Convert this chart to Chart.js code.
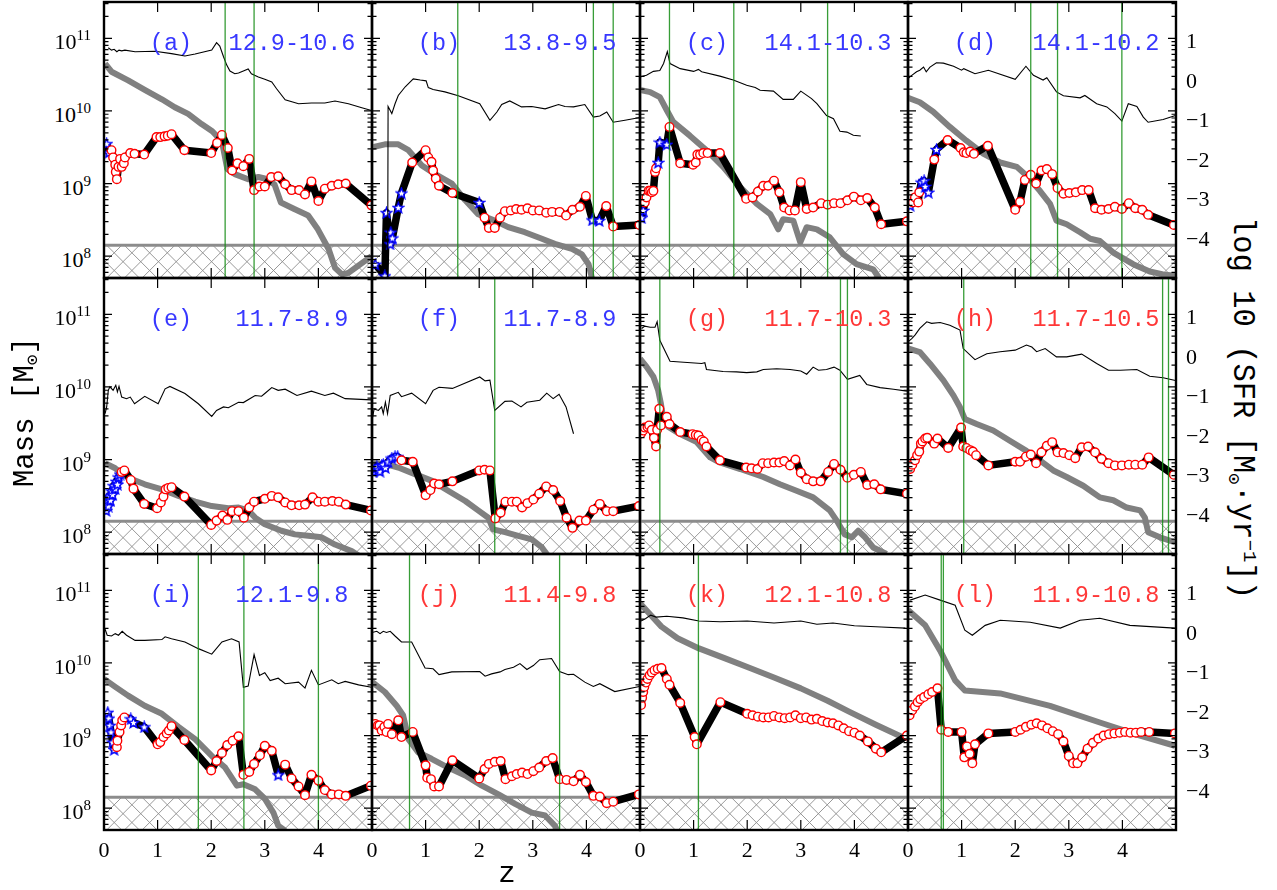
<!DOCTYPE html>
<html>
<head>
<meta charset="utf-8">
<title>Mass and star formation histories</title>
<script src="https://cdn.jsdelivr.net/npm/chart.js@4.4.1/dist/chart.umd.min.js"></script>
<style>
  html, body { margin: 0; padding: 0; background: #fff; }
  body { position: relative; width: 1277px; height: 890px; overflow: hidden; }
  canvas { position: absolute; }
  .t { position: absolute; white-space: nowrap; line-height: 1; color: #000; }
  .tick { font-family: "Liberation Serif", "DejaVu Serif", serif; font-size: 22px; }
  .tick sup { font-size: 15px; position: relative; top: -9px; vertical-align: baseline; line-height: 0; }
  .tag { font-family: "Liberation Mono", "DejaVu Sans Mono", monospace; font-size: 23.5px; }
  .axl { font-family: "Liberation Mono", "DejaVu Sans Mono", monospace; font-size: 29px; }
  .axl.wide { font-size: 30.5px; }
  .axl sub, .axl sup { font-size: 62%; line-height: 0; position: relative; vertical-align: baseline; }
  .axl sub { top: 0.3em; }
  .axl sup { top: -0.55em; }
</style>
</head>
<body>
<script>
// ---- axis definitions -------------------------------------------------
const zTicks = [0, 1, 2, 3, 4];
const massTicks = [8, 9, 10, 11];          // log10 of mass in solar masses
const sfrTicks = [1, 0, -1, -2, -3, -4];   // log10 of SFR
const massFloor = 8.15;                    // log10 M below which objects are unresolved

// ---- panel annotations ------------------------------------------------
const panelTags = ['(a)', '(b)', '(c)', '(d)', '(e)', '(f)', '(g)', '(h)', '(i)', '(j)', '(k)', '(l)'];
const massRanges = ['12.9-10.6', '13.8-9.5', '14.1-10.3', '14.1-10.2', '11.7-8.9', '11.7-8.9',
                    '11.7-10.3', '11.7-10.5', '12.1-9.8', '11.4-9.8', '12.1-10.8', '11.9-10.8'];
const panelGroup = ['b', 'b', 'b', 'b', 'b', 'b', 'r', 'r', 'b', 'r', 'r', 'r'];

// ---- (a) ---------------------------------------------------------------
const sfrA = [[0.08,0.84],[0.14,0.78],[0.19,0.80],[0.24,0.74],[0.28,0.78],[0.33,0.76],[0.39,0.78],[0.58,0.74],[0.95,0.75],[1.26,0.69],[1.51,0.63],[1.70,0.68],[2.01,0.78],[2.10,0.97],[2.16,0.88],[2.23,0.61],[2.29,0.40],[2.35,0.25],[2.44,0.18],[2.51,0.20],[2.60,0.25],[2.69,0.30],[2.75,0.18],[2.88,0.10],[3.00,0.04],[3.13,-0.03],[3.22,-0.20],[3.38,-0.48],[3.63,-0.58],[3.87,-0.56],[4.12,-0.56],[4.31,-0.51],[4.56,-0.58],[4.81,-0.68],[4.99,-0.75]];
const haloA = [[0.02,10.65],[0.14,10.54],[0.45,10.42],[0.76,10.29],[1.08,10.16],[1.32,10.05],[1.57,9.96],[1.82,9.82],[2.02,9.72],[2.20,9.58],[2.30,9.20],[2.44,9.13],[2.69,9.06],[2.88,9.09],[3.00,9.07],[3.18,8.99],[3.30,8.74],[3.55,8.65],[3.81,8.56],[3.99,8.37],[4.19,8.10],[4.31,7.84],[4.44,7.75],[4.56,7.77],[4.99,8.00]];
const massA = [[0.05,9.55],[0.09,9.43],[0.14,9.46],[0.17,9.36],[0.21,9.26],[0.22,9.16],[0.24,9.06],[0.27,9.23],[0.30,9.34],[0.33,9.23],[0.37,9.28],[0.39,9.36],[0.49,9.42],[0.57,9.41],[0.75,9.40],[0.98,9.64],[1.05,9.64],[1.13,9.65],[1.19,9.66],[1.26,9.68],[1.50,9.46],[2.00,9.42],[2.11,9.56],[2.20,9.67],[2.31,9.49],[2.39,9.18],[2.49,9.28],[2.60,9.24],[2.71,9.34],[2.80,8.91],[2.90,8.96],[3.00,8.96],[3.12,9.09],[3.25,9.10],[3.38,8.99],[3.50,8.91],[3.64,8.91],[3.75,8.85],[3.87,9.03],[4.00,8.76],[4.12,8.93],[4.25,8.97],[4.37,8.99],[4.51,9.00],[4.99,8.70]];
const starsA = [0, 1];
const mergersA = [2.26, 2.80];

// ---- (b) ---------------------------------------------------------------
const sfrB = [[0.29,-6],[0.30,-0.65],[0.37,-0.83],[0.43,-0.58],[0.49,-0.37],[0.62,-0.15],[0.77,0.05],[0.90,0.02],[1.01,0.00],[1.05,-0.17],[1.14,-0.22],[1.36,-0.28],[1.61,-0.38],[2.01,-0.58],[2.20,-1.00],[2.33,-0.79],[2.42,-0.60],[2.57,-0.51],[2.79,-0.66],[2.98,-0.65],[3.23,-0.71],[3.48,-0.60],[3.60,-0.65],[3.76,-0.66],[3.97,-0.60],[4.13,-0.92],[4.25,-0.89],[4.38,-0.79],[4.50,-1.05],[4.72,-1.00],[5.00,-0.93]];
const haloB = [[0,9.50],[0.24,9.54],[0.49,9.54],[0.68,9.46],[0.93,9.25],[1.18,9.13],[1.49,9.00],[1.74,8.77],[1.98,8.58],[2.29,8.49],[2.54,8.40],[2.85,8.33],[3.17,8.24],[3.41,8.17],[3.73,8.10],[3.91,8.03],[4.04,7.89],[4.10,7.71],[4.12,7.50]];
const massB = [[0.06,7.89],[0.24,7.73],[0.27,8.60],[0.34,8.17],[0.35,8.33],[0.38,8.25],[0.49,8.67],[0.55,8.87],[0.75,9.29],[1.00,9.46],[1.05,9.36],[1.11,9.30],[1.14,9.18],[1.19,9.07],[1.25,8.97],[1.50,8.87],[2.00,8.74],[2.10,8.53],[2.18,8.39],[2.29,8.39],[2.39,8.53],[2.48,8.62],[2.59,8.63],[2.69,8.65],[2.79,8.64],[2.90,8.66],[3.00,8.63],[3.12,8.63],[3.25,8.60],[3.36,8.61],[3.50,8.61],[3.62,8.56],[3.74,8.64],[3.88,8.68],[3.99,8.83],[4.11,8.50],[4.24,8.49],[4.37,8.69],[4.50,8.41],[4.99,8.43]];
const starsB = [0, 1, 2, 3, 4, 5, 6, 7, 16, 35, 36];
const mergersB = [1.60, 4.13, 4.50];

// ---- (c) ---------------------------------------------------------------
const sfrC = [[0,0.10],[0.12,0.14],[0.25,0.24],[0.37,0.26],[0.44,0.44],[0.51,0.74],[0.56,0.44],[0.75,0.31],[1.00,0.24],[1.09,0.29],[1.15,0.23],[1.49,0.12],[1.74,0.02],[1.99,-0.11],[2.15,-0.17],[2.24,-0.24],[2.49,-0.26],[2.67,-0.47],[2.86,-0.47],[3.00,-0.26],[3.20,-0.45],[3.30,-0.58],[3.48,-0.88],[3.61,-0.96],[3.73,-1.28],[3.86,-1.30],[3.98,-1.38],[4.12,-1.40]];
const haloC = [[0,10.29],[0.19,10.26],[0.37,10.19],[0.50,10.01],[0.62,9.85],[0.93,9.66],[1.24,9.46],[1.55,9.23],[1.87,8.95],[2.18,8.72],[2.43,8.58],[2.58,8.37],[2.67,8.51],[2.86,8.49],[2.99,8.19],[3.11,8.40],[3.30,8.37],[3.54,8.26],[3.79,8.03],[4.04,7.89],[4.35,7.82],[4.45,7.71],[4.48,7.60]];
const massC = [[0.03,8.53],[0.06,8.63],[0.09,8.74],[0.12,8.81],[0.16,8.90],[0.19,8.90],[0.22,8.88],[0.25,8.90],[0.28,9.16],[0.30,9.21],[0.34,9.29],[0.37,9.57],[0.50,9.54],[0.55,9.78],[0.75,9.28],[0.99,9.26],[1.04,9.29],[1.07,9.40],[1.12,9.40],[1.18,9.42],[1.26,9.42],[1.49,9.42],[1.98,8.79],[2.10,8.81],[2.20,8.89],[2.30,8.97],[2.39,8.97],[2.50,9.04],[2.60,8.88],[2.69,8.67],[2.79,8.63],[2.89,8.63],[3.00,9.02],[3.11,8.65],[3.23,8.67],[3.38,8.73],[3.50,8.71],[3.62,8.73],[3.74,8.73],[3.87,8.77],[3.99,8.82],[4.12,8.77],[4.24,8.80],[4.38,8.67],[4.50,8.44],[4.98,8.48]];
const starsC = [0, 1, 10, 11, 12];
const mergersC = [0.55, 1.75, 3.50];

// ---- (d) ---------------------------------------------------------------
const sfrD = [[0,0.06],[0.07,0.14],[0.16,0.23],[0.22,0.27],[0.29,0.35],[0.34,0.23],[0.41,0.35],[0.53,0.46],[0.66,0.45],[0.85,0.37],[1.00,0.27],[1.04,0.31],[1.25,0.18],[1.50,0.27],[2.00,0.04],[2.20,0.37],[2.34,0.14],[2.52,0.02],[2.59,0.08],[2.77,-0.28],[2.90,-0.38],[3.21,-0.43],[3.30,-0.37],[3.52,-0.58],[3.71,-0.66],[3.86,-0.83],[3.99,-1.02],[4.11,-0.58],[4.27,-0.65],[4.39,-0.92],[4.48,-1.05],[4.76,-0.98],[4.99,-0.88]];
const haloD = [[0,10.18],[0.22,10.12],[0.47,9.99],[0.78,9.78],[1.09,9.59],[1.41,9.41],[1.72,9.29],[2.03,9.23],[2.21,9.11],[2.46,8.90],[2.65,8.72],[2.77,8.49],[2.96,8.44],[3.21,8.33],[3.40,8.24],[3.58,8.21],[3.83,8.05],[4.20,7.89],[4.51,7.79],[4.76,7.75],[4.99,7.73]];
const massD = [[0.04,8.70],[0.09,8.74],[0.13,8.81],[0.19,8.74],[0.21,8.88],[0.25,9.02],[0.30,9.04],[0.32,8.96],[0.38,8.88],[0.49,9.33],[0.53,9.47],[0.74,9.60],[0.98,9.49],[1.04,9.43],[1.09,9.42],[1.16,9.44],[1.23,9.41],[1.49,9.52],[2.00,8.64],[2.09,8.75],[2.18,9.05],[2.29,9.12],[2.39,9.00],[2.49,9.18],[2.59,9.20],[2.69,9.13],[2.79,8.94],[2.90,8.86],[3.01,8.87],[3.13,8.88],[3.25,8.91],[3.37,8.91],[3.49,8.66],[3.61,8.64],[3.74,8.65],[3.86,8.68],[3.99,8.65],[4.12,8.73],[4.24,8.66],[4.37,8.64],[4.48,8.57],[4.96,8.43]];
const starsD = [0, 5, 6, 7, 8, 10];
const mergersD = [2.29, 2.79, 3.99];

// ---- (e) ---------------------------------------------------------------
const sfrE = [[0.02,-1.44],[0.05,-1.27],[0.08,-0.85],[0.11,-0.76],[0.17,-0.85],[0.22,-0.72],[0.25,-0.89],[0.28,-0.75],[0.33,-1.02],[0.42,-1.06],[0.49,-1.02],[0.57,-1.19],[0.76,-1.00],[1.01,-1.19],[1.14,-0.81],[1.23,-0.75],[1.51,-0.93],[1.76,-1.19],[2.01,-1.51],[2.10,-1.36],[2.23,-1.27],[2.32,-1.29],[2.51,-1.15],[2.60,-1.16],[2.82,-0.98],[2.94,-1.00],[3.00,-0.93],[3.13,-0.78],[3.25,-0.85],[3.38,-0.82],[3.60,-0.98],[3.87,-0.87],[4.12,-0.98],[4.28,-0.92],[4.50,-1.06],[4.99,-1.09]];
const haloE = [[0.02,8.95],[0.21,8.88],[0.45,8.75],[0.76,8.66],[1.08,8.59],[1.39,8.50],[1.70,8.42],[2.01,8.36],[2.32,8.33],[2.51,8.34],[2.69,8.30],[2.82,8.20],[3.00,8.11],[3.31,8.02],[3.56,7.97],[3.81,7.95],[4.06,7.93],[4.31,7.83],[4.62,7.74],[4.81,7.65]];
const massE = [[0.02,8.40],[0.04,8.30],[0.06,8.45],[0.08,8.36],[0.10,8.50],[0.12,8.44],[0.14,8.57],[0.16,8.52],[0.18,8.64],[0.21,8.60],[0.23,8.70],[0.25,8.66],[0.27,8.76],[0.30,8.80],[0.33,8.83],[0.38,8.85],[0.50,8.72],[0.55,8.60],[0.75,8.39],[0.99,8.33],[1.06,8.41],[1.11,8.49],[1.15,8.59],[1.20,8.61],[1.26,8.62],[1.50,8.49],[2.00,8.10],[2.10,8.16],[2.21,8.23],[2.30,8.17],[2.39,8.29],[2.51,8.29],[2.61,8.20],[2.71,8.34],[2.80,8.42],[3.00,8.46],[3.13,8.50],[3.25,8.48],[3.38,8.41],[3.50,8.37],[3.64,8.37],[3.75,8.38],[3.89,8.48],[4.00,8.42],[4.12,8.42],[4.26,8.43],[4.38,8.42],[4.51,8.38],[4.98,8.30]];
const starsE = [0, 1, 2, 3, 4, 5, 6, 7, 8, 9, 10, 11, 12, 13];
const mergersE = [];

// ---- (f) ---------------------------------------------------------------
const sfrF = [[0.00,-1.61],[0.04,-1.32],[0.12,-1.36],[0.18,-1.27],[0.21,-1.44],[0.25,-1.15],[0.29,-1.44],[0.34,-0.98],[0.49,-0.90],[0.55,-1.01],[0.74,-0.92],[1.00,-1.19],[1.14,-0.85],[1.25,-0.77],[1.50,-0.80],[2.01,-0.51],[2.11,-0.61],[2.20,-0.59],[2.29,-1.36],[2.48,-1.13],[2.61,-1.12],[2.78,-1.27],[2.89,-1.15],[3.13,-1.10],[3.26,-0.92],[3.38,-1.06],[3.49,-0.95],[3.62,-1.27],[3.76,-1.95]];
const haloF = [[0,8.95],[0.24,8.94],[0.49,8.89],[0.80,8.80],[1.11,8.71],[1.42,8.57],[1.74,8.43],[1.98,8.30],[2.17,8.20],[2.26,8.04],[2.48,8.00],[2.73,7.95],[2.98,7.90],[3.17,7.79],[3.29,7.67]];
const massF = [[0.02,8.84],[0.06,8.88],[0.09,8.90],[0.12,8.86],[0.15,8.84],[0.18,8.92],[0.21,8.93],[0.25,8.89],[0.30,8.97],[0.37,9.02],[0.43,9.04],[0.48,9.04],[0.55,8.99],[0.76,8.97],[1.00,8.51],[1.09,8.58],[1.16,8.67],[1.25,8.66],[1.50,8.70],[2.00,8.85],[2.10,8.86],[2.20,8.85],[2.30,8.19],[2.40,8.27],[2.49,8.42],[2.61,8.42],[2.70,8.42],[2.80,8.34],[2.90,8.40],[3.01,8.45],[3.12,8.53],[3.25,8.63],[3.38,8.58],[3.51,8.43],[3.63,8.20],[3.74,8.06],[3.87,8.16],[3.99,8.16],[4.13,8.31],[4.25,8.39],[4.38,8.29],[4.50,8.29],[4.98,8.36]];
const starsF = [0, 1, 2, 3, 4, 5, 6, 7, 8, 9, 10, 11];
const mergersF = [2.29];

// ---- (g) ---------------------------------------------------------------
const sfrG = [[0.03,0.72],[0.09,0.78],[0.19,0.75],[0.28,0.75],[0.32,0.89],[0.37,0.42],[0.56,-0.11],[0.75,-0.13],[1.15,-0.17],[1.21,-0.15],[1.24,-0.32],[1.55,-0.37],[1.80,-0.38],[1.99,-0.40],[2.18,-0.38],[2.30,-0.32],[2.55,-0.30],[2.80,-0.32],[3.00,-0.36],[3.11,-0.44],[3.23,-0.26],[3.33,-0.34],[3.48,-0.32],[3.62,-0.26],[3.73,-0.34],[3.87,-0.57],[4.10,-0.47],[4.23,-0.70],[4.48,-0.78],[4.73,-0.82],[4.98,-0.87]];
const haloG = [[0,10.39],[0.12,10.28],[0.25,10.14],[0.34,9.95],[0.39,9.77],[0.44,9.54],[0.53,9.45],[0.75,9.35],[1.06,9.24],[1.31,9.03],[1.49,8.96],[1.87,8.87],[2.30,8.76],[2.61,8.66],[2.92,8.57],[3.23,8.48],[3.54,8.30],[3.67,8.16],[3.82,7.97],[3.95,7.93],[4.07,8.02],[4.20,7.93],[4.35,7.79],[4.60,7.70]];
const massG = [[0.02,9.36],[0.06,9.40],[0.09,9.44],[0.14,9.45],[0.17,9.47],[0.22,9.41],[0.26,9.30],[0.30,9.18],[0.32,9.41],[0.36,9.70],[0.39,9.47],[0.50,9.59],[0.55,9.49],[0.75,9.38],[0.98,9.35],[1.04,9.34],[1.09,9.33],[1.15,9.27],[1.19,9.25],[1.24,9.18],[1.49,8.99],[1.98,8.89],[2.08,8.88],[2.19,8.87],[2.29,8.95],[2.39,8.95],[2.50,8.96],[2.60,8.96],[2.69,8.98],[2.80,8.92],[2.90,9.00],[3.00,8.82],[3.11,8.73],[3.23,8.70],[3.37,8.70],[3.51,8.83],[3.62,8.94],[3.74,8.86],[3.87,8.75],[3.99,8.79],[4.12,8.83],[4.24,8.65],[4.37,8.66],[4.49,8.59],[4.98,8.53]];
const starsG = [];
const mergersG = [0.37, 3.74, 3.87];

// ---- (h) ---------------------------------------------------------------
const sfrH = [[0,0.38],[0.07,0.46],[0.13,0.55],[0.22,0.72],[0.35,0.89],[0.44,0.85],[0.60,0.87],[0.78,0.80],[0.97,0.68],[1.03,0.21],[1.25,-0.07],[1.47,0.08],[1.72,0.13],[2.00,0.17],[2.21,0.30],[2.31,0.25],[2.40,0.13],[2.56,0.21],[2.77,0.00],[2.96,0.00],[3.24,0.07],[3.52,-0.17],[3.74,-0.34],[3.96,-0.34],[4.27,-0.32],[4.51,-0.49],[4.76,-0.53],[4.99,-0.60]];
const haloH = [[0,10.53],[0.22,10.48],[0.41,10.32],[0.66,10.09],[0.85,9.88],[0.97,9.72],[1.06,9.56],[1.28,9.49],[1.59,9.40],[1.90,9.26],[2.21,9.12],[2.46,8.99],[2.71,8.85],[2.96,8.76],[3.27,8.64],[3.58,8.48],[3.83,8.44],[4.08,8.34],[4.33,8.30],[4.42,8.20],[4.48,8.00],[4.70,7.93],[4.99,7.86]];
const massH = [[0.04,8.87],[0.08,8.93],[0.13,8.99],[0.17,9.06],[0.21,9.11],[0.24,9.22],[0.27,9.25],[0.32,9.29],[0.36,9.30],[0.49,9.22],[0.55,9.29],[0.75,9.16],[0.99,9.44],[1.03,9.18],[1.09,9.16],[1.16,9.13],[1.21,9.11],[1.27,9.06],[1.50,8.92],[2.00,8.97],[2.09,8.97],[2.20,9.04],[2.29,9.07],[2.39,8.95],[2.49,9.10],[2.59,9.19],[2.69,9.24],[2.79,9.10],[2.90,9.09],[3.01,9.06],[3.12,9.02],[3.24,9.17],[3.36,9.18],[3.49,9.10],[3.61,9.01],[3.74,8.95],[3.86,8.92],[3.99,8.92],[4.12,8.93],[4.24,8.93],[4.37,8.93],[4.49,9.03],[4.96,8.79]];
const starsH = [];
const mergersH = [1.04, 4.75, 4.86];

// ---- (i) ---------------------------------------------------------------
const sfrI = [[0.02,0.09],[0.06,-0.06],[0.14,-0.08],[0.21,-0.02],[0.27,-0.06],[0.34,0.04],[0.42,-0.06],[0.58,-0.19],[0.76,-0.19],[1.08,-0.17],[1.14,-0.10],[1.26,-0.15],[1.51,-0.23],[1.76,-0.40],[2.01,-0.54],[2.20,-0.23],[2.38,-0.15],[2.52,-0.23],[2.60,-1.38],[2.69,-1.35],[2.80,-0.55],[2.90,-1.08],[3.00,-1.01],[3.10,-1.21],[3.25,-1.15],[3.38,-1.29],[3.63,-1.25],[3.75,-1.40],[3.87,-0.95],[4.00,-1.32],[4.25,-1.19],[4.37,-1.29],[4.50,-1.23],[4.75,-1.32],[4.99,-1.38]];
const haloI = [[0,9.78],[0.21,9.67],[0.45,9.55],[0.76,9.41],[1.08,9.30],[1.39,9.12],[1.70,8.95],[2.01,8.72],[2.26,8.56],[2.48,8.31],[2.60,8.33],[2.82,8.26],[3.00,8.13],[3.16,7.94],[3.25,7.76],[3.38,7.69]];
const massI = [[0.07,9.32],[0.09,9.24],[0.11,9.14],[0.13,9.05],[0.16,8.91],[0.19,8.81],[0.24,8.84],[0.25,8.93],[0.29,9.05],[0.32,9.14],[0.34,9.21],[0.38,9.25],[0.50,9.23],[0.55,9.18],[0.75,9.12],[1.00,8.88],[1.05,8.91],[1.11,8.98],[1.17,9.03],[1.21,9.07],[1.26,9.13],[1.50,8.94],[2.00,8.52],[2.10,8.65],[2.20,8.76],[2.30,8.87],[2.40,8.93],[2.51,8.99],[2.60,8.46],[2.71,8.50],[2.80,8.61],[2.91,8.73],[3.00,8.86],[3.13,8.79],[3.25,8.46],[3.38,8.60],[3.50,8.41],[3.63,8.30],[3.75,8.18],[3.87,8.46],[4.00,8.38],[4.12,8.25],[4.25,8.19],[4.38,8.19],[4.51,8.17],[4.98,8.31]];
const starsI = [0, 1, 2, 3, 4, 5, 12, 13, 14, 34];
const mergersI = [1.76, 2.61, 4.00];

// ---- (j) ---------------------------------------------------------------
const sfrJ = [[0,0.01],[0.09,0.04],[0.15,-0.02],[0.21,0.04],[0.27,0.01],[0.34,0.04],[0.43,-0.08],[0.55,-0.23],[0.74,-0.23],[0.99,-0.89],[1.14,-0.91],[1.25,-1.06],[1.49,-0.99],[2.01,-0.98],[2.11,-1.10],[2.23,-1.04],[2.39,-0.99],[2.48,-0.93],[2.64,-0.87],[2.76,-0.78],[2.89,-0.93],[3.01,-0.83],[3.13,-0.68],[3.35,-0.65],[3.50,-0.98],[3.66,-1.06],[3.76,-1.05],[3.97,-1.25],[4.13,-1.36],[4.25,-1.29],[4.53,-1.49],[4.99,-1.36]];
const haloJ = [[0,9.74],[0.24,9.60],[0.46,9.41],[0.58,9.28],[0.68,8.95],[0.86,8.77],[1.11,8.68],[1.42,8.56],[1.74,8.45],[2.05,8.31],[2.36,8.19],[2.67,8.06],[2.98,7.94],[3.23,7.90],[3.41,7.76],[3.48,7.66]];
const massJ = [[0.06,9.16],[0.11,9.14],[0.14,9.14],[0.18,9.07],[0.23,9.12],[0.27,9.05],[0.30,9.16],[0.37,9.02],[0.49,9.21],[0.55,8.98],[0.76,9.05],[1.00,8.59],[1.03,8.42],[1.10,8.40],[1.16,8.30],[1.25,8.30],[1.50,8.66],[2.00,8.41],[2.10,8.54],[2.18,8.61],[2.29,8.64],[2.40,8.65],[2.49,8.40],[2.61,8.44],[2.70,8.47],[2.80,8.49],[2.90,8.47],[3.01,8.51],[3.12,8.56],[3.25,8.65],[3.37,8.69],[3.50,8.40],[3.63,8.39],[3.76,8.37],[3.88,8.46],[3.99,8.36],[4.13,8.17],[4.25,8.16],[4.38,8.07],[4.50,8.09],[4.98,8.19]];
const starsJ = [];
const mergersJ = [0.70, 3.50];

// ---- (k) ---------------------------------------------------------------
const sfrK = [[0.02,0.30],[0.10,0.36],[0.20,0.45],[0.30,0.40],[0.50,0.42],[0.80,0.38],[1.10,0.30],[1.50,0.28],[2.00,0.30],[2.50,0.25],[3.00,0.30],[3.30,0.22],[3.60,0.25],[4.00,0.18],[4.50,0.15],[4.95,0.12]];
const haloK = [[0,10.82],[0.20,10.66],[0.40,10.50],[0.70,10.34],[1.10,10.20],[1.60,10.06],[2.05,9.93],[2.50,9.80],[3.00,9.65],[3.50,9.48],[3.90,9.33],[4.40,9.15],[4.95,8.96]];
const massK = [[0.02,9.42],[0.04,9.52],[0.06,9.60],[0.08,9.67],[0.11,9.73],[0.14,9.78],[0.18,9.83],[0.22,9.87],[0.27,9.90],[0.33,9.92],[0.40,9.93],[0.50,9.78],[0.55,9.70],[0.75,9.45],[1.02,8.98],[1.06,8.88],[1.50,9.46],[2.00,9.30],[2.10,9.28],[2.20,9.26],[2.30,9.25],[2.40,9.25],[2.50,9.27],[2.60,9.25],[2.70,9.24],[2.80,9.25],[2.90,9.28],[3.00,9.24],[3.10,9.25],[3.20,9.22],[3.30,9.23],[3.40,9.20],[3.50,9.18],[3.60,9.17],[3.70,9.14],[3.80,9.10],[3.90,9.06],[4.00,9.04],[4.10,9.00],[4.25,8.92],[4.40,8.82],[4.50,8.77],[4.98,9.00]];
const starsK = [];
const mergersK = [1.09];

// ---- (l) ---------------------------------------------------------------
const sfrL = [[0.04,0.83],[0.32,0.96],[0.60,0.83],[0.88,0.70],[1.06,0.07],[1.20,-0.06],[1.44,0.19],[1.72,0.32],[2.28,0.27],[2.84,0.12],[3.21,0.32],[3.58,0.37],[4.14,0.19],[4.98,0.12]];
const haloL = [[0,10.73],[0.32,10.52],[0.60,10.17],[0.88,9.76],[1.06,9.62],[1.72,9.58],[2.65,9.41],[3.58,9.18],[4.33,9.00],[4.98,8.86]];
const massL = [[0.03,9.28],[0.08,9.35],[0.13,9.40],[0.18,9.46],[0.23,9.50],[0.30,9.53],[0.38,9.57],[0.45,9.60],[0.55,9.65],[0.62,9.08],[0.75,9.05],[1.00,9.05],[1.05,8.70],[1.10,8.85],[1.15,8.75],[1.20,8.62],[1.25,8.88],[1.50,9.03],[2.00,9.05],[2.10,9.08],[2.20,9.12],[2.30,9.15],[2.40,9.17],[2.50,9.14],[2.60,9.10],[2.70,9.06],[2.80,9.02],[2.90,8.92],[3.00,8.72],[3.08,8.62],[3.16,8.62],[3.25,8.70],[3.35,8.82],[3.45,8.90],[3.55,8.96],[3.65,9.00],[3.75,9.02],[3.85,9.03],[3.95,9.04],[4.05,9.05],[4.15,9.04],[4.25,9.04],[4.35,9.05],[4.50,9.05],[4.98,9.03]];
const starsL = [];
const mergersL = [0.62, 0.66];

// ---- assemble the 3 x 4 grid ---------------------------------------------
const panels = [
  { sfr: sfrA, halo: haloA, mass: massA, stars: starsA, marks: mergersA },
  { sfr: sfrB, halo: haloB, mass: massB, stars: starsB, marks: mergersB },
  { sfr: sfrC, halo: haloC, mass: massC, stars: starsC, marks: mergersC },
  { sfr: sfrD, halo: haloD, mass: massD, stars: starsD, marks: mergersD },
  { sfr: sfrE, halo: haloE, mass: massE, stars: starsE, marks: mergersE },
  { sfr: sfrF, halo: haloF, mass: massF, stars: starsF, marks: mergersF },
  { sfr: sfrG, halo: haloG, mass: massG, stars: starsG, marks: mergersG },
  { sfr: sfrH, halo: haloH, mass: massH, stars: starsH, marks: mergersH },
  { sfr: sfrI, halo: haloI, mass: massI, stars: starsI, marks: mergersI },
  { sfr: sfrJ, halo: haloJ, mass: massJ, stars: starsJ, marks: mergersJ },
  { sfr: sfrK, halo: haloK, mass: massK, stars: starsK, marks: mergersK },
  { sfr: sfrL, halo: haloL, mass: massL, stars: starsL, marks: mergersL }
];

// ---- layout & styling --------------------------------------------------
const GRID = { left: 104, top: 2, w: 268, h: 276, pad: 8 };
const TAG_COLOUR = { b: 'rgb(55,55,255)', r: 'rgb(255,55,55)' };

// hollow five-point star used for the flagged snapshots
function starSprite(size) {
  const c = document.createElement('canvas');
  c.width = c.height = size;
  const g = c.getContext('2d');
  const cx = size / 2, cy = size / 2 + 0.5, R = size / 2 - 1, r = R * 0.42;
  g.beginPath();
  for (let i = 0; i < 10; i++) {
    const a = -Math.PI / 2 + i * Math.PI / 5, rr = i % 2 ? r : R;
    g.lineTo(cx + rr * Math.cos(a), cy + rr * Math.sin(a));
  }
  g.closePath();
  g.fillStyle = '#fff'; g.fill();
  g.strokeStyle = '#0000ff'; g.lineWidth = 1.4; g.lineJoin = 'miter'; g.stroke();
  return c;
}
const STAR = starSprite(13);

// hatch under the resolution limit, merger markers, frame and ticks
const panelDecor = {
  id: 'panelDecor',
  beforeDatasetsDraw(chart) {
    const { ctx, chartArea: a, scales } = chart;
    const yT = scales.yMass.getPixelForValue(massFloor);
    const h = a.bottom - yT, s = 17.7;
    ctx.save();
    ctx.beginPath(); ctx.rect(a.left, yT, a.right - a.left, h); ctx.clip();
    ctx.strokeStyle = 'rgb(140,140,140)'; ctx.lineWidth = 0.9;
    ctx.beginPath();
    for (let x = a.left - h - s; x < a.right + s; x += s) {
      ctx.moveTo(x, a.bottom); ctx.lineTo(x + h, yT);
      ctx.moveTo(x, yT); ctx.lineTo(x + h, a.bottom);
    }
    ctx.stroke();
    ctx.restore();
    ctx.save();
    ctx.strokeStyle = 'rgb(140,140,140)'; ctx.lineWidth = 3;
    ctx.beginPath(); ctx.moveTo(a.left, yT); ctx.lineTo(a.right, yT); ctx.stroke();
    ctx.restore();
  },
  afterDatasetsDraw(chart, args, opts) {
    const { ctx, chartArea: a, scales } = chart;
    ctx.save();
    ctx.strokeStyle = 'rgba(20,140,20,0.85)'; ctx.lineWidth = 1.3;
    ctx.beginPath();
    (opts.marks || []).forEach(z => {
      const px = scales.x.getPixelForValue(z);
      ctx.moveTo(px, a.top); ctx.lineTo(px, a.bottom);
    });
    ctx.stroke();
    ctx.restore();
  },
  afterDraw(chart) {
    const { ctx, chartArea: a, scales } = chart;
    ctx.save();
    ctx.strokeStyle = '#000'; ctx.lineWidth = 1.2;
    ctx.beginPath();
    zTicks.forEach(z => {
      if (z === 0) return;
      const px = scales.x.getPixelForValue(z);
      ctx.moveTo(px, a.top); ctx.lineTo(px, a.top + 10);
      ctx.moveTo(px, a.bottom); ctx.lineTo(px, a.bottom - 10);
    });
    const lo = scales.yMass.min, hi = scales.yMass.max;
    for (let d = Math.floor(lo); d <= Math.ceil(hi); d++) {
      for (let k = 1; k <= 9; k++) {
        const v = d + Math.log10(k);
        if (v <= lo || v >= hi) continue;
        const py = scales.yMass.getPixelForValue(v);
        const len = k === 1 ? 8 : 4.5;
        ctx.moveTo(a.left, py); ctx.lineTo(a.left + len, py);
        ctx.moveTo(a.right, py); ctx.lineTo(a.right - len, py);
      }
    }
    ctx.stroke();
    ctx.lineWidth = 2.4;
    ctx.strokeRect(a.left, a.top, a.right - a.left, a.bottom - a.top);
    ctx.restore();
  }
};

function put(html, cls, x, y, tf) {
  const d = document.createElement('div');
  d.className = 't ' + cls;
  d.innerHTML = html;
  d.style.left = x + 'px';
  d.style.top = y + 'px';
  d.style.transform = tf;
  document.body.appendChild(d);
  return d;
}

const charts = panels.map((p, i) => {
  const col = i % 4, row = Math.floor(i / 4);
  const left = GRID.left + col * GRID.w, top = GRID.top + row * GRID.h;
  const cv = document.createElement('canvas');
  cv.width = GRID.w + 2 * GRID.pad;
  cv.height = GRID.h + 2 * GRID.pad;
  cv.style.left = (left - GRID.pad) + 'px';
  cv.style.top = (top - GRID.pad) + 'px';
  document.body.appendChild(cv);

  const chart = new Chart(cv, {
    type: 'line',
    data: {
      datasets: [
        { data: p.sfr, yAxisID: 'ySfr', borderColor: '#000', borderWidth: 1.1,
          pointRadius: 0, order: 0, clip: 0 },
        { data: p.mass, yAxisID: 'yMass', borderColor: '#000', borderWidth: 7.5,
          borderJoinStyle: 'round', pointRadius: 4.3, pointBorderWidth: 1.4,
          pointBorderColor: '#ff0000', pointBackgroundColor: '#ffffff',
          pointStyle: ctx => p.stars.includes(ctx.dataIndex) ? STAR : 'circle',
          order: 1, clip: 0 },
        { data: p.halo, yAxisID: 'yMass', borderColor: 'rgb(128,128,128)', borderWidth: 6,
          borderJoinStyle: 'round', pointRadius: 0, order: 2, clip: 0 }
      ]
    },
    options: {
      responsive: false,
      animation: false,
      devicePixelRatio: 1,
      events: [],
      layout: { padding: GRID.pad },
      elements: { line: { tension: 0 } },
      plugins: { legend: { display: false }, tooltip: { enabled: false }, panelDecor: { marks: p.marks } },
      scales: {
        x: { type: 'linear', min: 0, max: 5, display: false },
        yMass: { type: 'linear', position: 'left', min: 7.7, max: 11.5, display: false },
        ySfr: { type: 'linear', position: 'right', min: -5, max: 2, display: false }
      }
    },
    plugins: [panelDecor]
  });

  // panel tag and mass range
  const colour = TAG_COLOUR[panelGroup[i]];
  put(panelTags[i], 'tag', left + 67, top + 42, 'translate(-50%,-50%)').style.color = colour;
  put(massRanges[i], 'tag', left + 188, top + 42, 'translate(-50%,-50%)').style.color = colour;

  const offX = left - GRID.pad, offY = top - GRID.pad;
  if (col === 0) {
    massTicks.forEach(n => {
      const y = offY + chart.scales.yMass.getPixelForValue(n);
      put('10<sup>' + n + '</sup>', 'tick', 91, y + 2, 'translate(-100%,-40%)');
    });
  }
  if (col === 3) {
    sfrTicks.forEach(v => {
      const y = offY + chart.scales.ySfr.getPixelForValue(v);
      put(v < 0 ? '\u2212' + Math.abs(v) : String(v), 'tick', 1186, y, 'translate(0,-50%)');
    });
  }
  if (row === 2) {
    zTicks.forEach(z => {
      const x = offX + chart.scales.x.getPixelForValue(z);
      put(String(z), 'tick', x, 850, 'translate(-50%,-50%)');
    });
  }
  return chart;
});

// axis titles
put('Mass [M<sub>\u2299</sub>]', 'axl', 25, 412, 'translate(-50%,-50%) rotate(-90deg)');
put('log 10 (SFR [M<sub>\u2299</sub>\u00b7yr<sup>\u22121</sup>])', 'axl wide', 1242, 408, 'translate(-50%,-50%) rotate(90deg)');
put('z', 'axl', 507, 874, 'translate(-50%,-50%)');
</script>
</body>
</html>
